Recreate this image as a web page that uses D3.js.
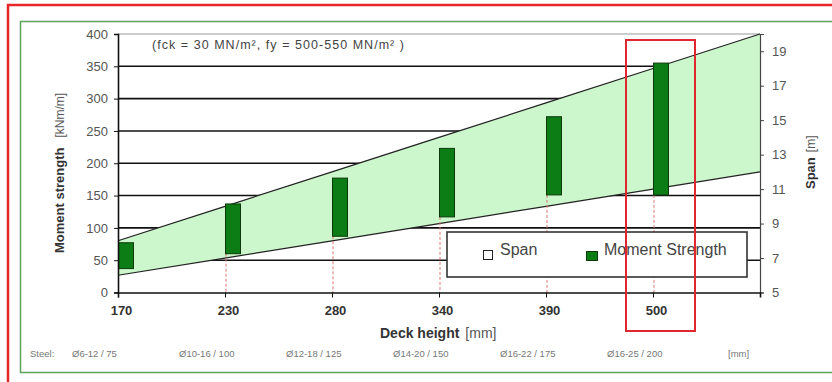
<!DOCTYPE html>
<html>
<head>
<meta charset="utf-8">
<script src="https://cdn.jsdelivr.net/npm/d3@7"></script>
<style>
  body { margin: 0; background: #fff; }
  svg { display: block; font-family: Arial, "Liberation Sans", sans-serif; }
</style>
</head>
<body>
<svg id="chart" width="832" height="382"></svg>
<script>
// data
const deckHeights = ["170", "230", "280", "340", "390", "500"];
const momentLow = [37, 60, 87, 117, 151, 151];
const momentHigh = [77, 137, 177, 223, 272, 355];
// span band (at each category and at the right edge)
const spanMin = [6, 7, 8, 9, 10, 11, 12];
const spanMax = [8, 10, 12, 14, 16, 18, 20];
const steelLabels = ["Ø6-12 / 75", "Ø10-16 / 100", "Ø12-18 / 125", "Ø14-20 / 150", "Ø16-22 / 175", "Ø16-25 / 200"];
const momentTicks = [0, 50, 100, 150, 200, 250, 300, 350, 400];
const spanTicks = [5, 7, 9, 11, 13, 15, 17, 19];

const svg = d3.select("#chart");

const plotLeft = 118, plotRight = 760, plotTop = 34, plotBottom = 292.5;

const x = d3.scaleLinear().domain([0, 6]).range([plotLeft, plotRight]);
const y = d3.scaleLinear().domain([0, 400]).range([plotBottom, plotTop]);
const ySpan = d3.scaleLinear().domain([5, 20]).range([plotBottom, plotTop]);

// frames
svg.append("rect")
    .attr("x", 8).attr("y", 5).attr("width", 840).attr("height", 390)
    .attr("fill", "none").attr("stroke", "#e8262a").attr("stroke-width", 2.5);
svg.append("rect")
    .attr("x", 20.5).attr("y", 21.5).attr("width", 830).attr("height", 351)
    .attr("fill", "none").attr("stroke", "#5aa55a").attr("stroke-width", 1.5);

// plot top border
svg.append("line")
    .attr("x1", plotLeft).attr("x2", plotRight).attr("y1", plotTop).attr("y2", plotTop)
    .attr("stroke", "#999").attr("stroke-width", 1);

// gridlines
svg.append("g")
    .selectAll("line")
    .data(momentTicks.filter(d => d > 0 && d < 400))
    .join("line")
    .attr("x1", plotLeft).attr("x2", plotRight)
    .attr("y1", d => y(d)).attr("y2", d => y(d))
    .attr("stroke", "#111").attr("stroke-width", 1.6);

// span band
const bandIdx = d3.range(spanMin.length);
const area = d3.area()
    .x(i => x(i))
    .y0(i => ySpan(spanMin[i]))
    .y1(i => ySpan(spanMax[i]));
svg.append("path")
    .datum(bandIdx)
    .attr("d", area)
    .attr("fill", "#ccf6cc");

const lineMax = d3.line().x(i => x(i)).y(i => ySpan(spanMax[i]));
const lineMin = d3.line().x(i => x(i)).y(i => ySpan(spanMin[i]));
svg.append("path").datum(bandIdx).attr("d", lineMax)
    .attr("fill", "none").attr("stroke", "#222").attr("stroke-width", 1.2);
svg.append("path").datum(bandIdx).attr("d", lineMin)
    .attr("fill", "none").attr("stroke", "#222").attr("stroke-width", 1.2);

// dashed drop lines below the bars
svg.append("g")
    .selectAll("line")
    .data(deckHeights.map((d, i) => i).filter(i => i > 0))
    .join("line")
    .attr("x1", i => x(i) + 1).attr("x2", i => x(i) + 1)
    .attr("y1", i => y(momentLow[i])).attr("y2", plotBottom)
    .attr("stroke", "#d77").attr("stroke-width", 1)
    .attr("stroke-dasharray", "3,2");

// moment strength bars
const barW = 15;
svg.append("g")
    .selectAll("rect")
    .data(deckHeights)
    .join("rect")
    .attr("x", (d, i) => x(i) + 0.5)
    .attr("y", (d, i) => y(momentHigh[i]))
    .attr("width", barW)
    .attr("height", (d, i) => y(momentLow[i]) - y(momentHigh[i]))
    .attr("fill", "#0b7d14")
    .attr("stroke", "#0a3a0a").attr("stroke-width", 1);

// left axis
const yAxis = d3.axisLeft(y).tickValues(momentTicks).tickSize(4).tickPadding(6);
const gy = svg.append("g").attr("transform", `translate(${plotLeft},0)`).call(yAxis);
gy.select(".domain").attr("stroke", "#111").attr("stroke-width", 1.6);
gy.selectAll(".tick line").attr("stroke", "#111");
gy.selectAll(".tick text").attr("font-size", 13).attr("fill", "#555");

// right axis
const rAxis = d3.axisRight(ySpan).tickValues(spanTicks).tickSize(4).tickPadding(8);
const gr = svg.append("g").attr("transform", `translate(${plotRight},0)`).call(rAxis);
gr.select(".domain").attr("stroke", "#444").attr("stroke-width", 1.2);
gr.selectAll(".tick line").attr("stroke", "#444");
gr.selectAll(".tick text").attr("font-size", 13).attr("fill", "#555");

// x axis
const xAxis = d3.axisBottom(x).tickValues(d3.range(deckHeights.length))
    .tickFormat(i => deckHeights[i]).tickSize(5).tickPadding(8);
const gx = svg.append("g").attr("transform", `translate(0,${plotBottom})`).call(xAxis);
gx.select(".domain").attr("stroke", "#111").attr("stroke-width", 1.6);
gx.selectAll(".tick line").attr("stroke", "#111");
gx.selectAll(".tick text").attr("font-size", 13).attr("font-weight", "bold")
    .attr("fill", "#333").attr("dx", 3);

// axis titles
const xt = svg.append("text").attr("x", 380).attr("y", 338).attr("fill", "#333");
xt.append("tspan").attr("font-size", 14).attr("font-weight", "bold").text("Deck height");
xt.append("tspan").attr("font-size", 14).attr("dx", 6).attr("fill", "#555").text("[mm]");

const yt = svg.append("text")
    .attr("transform", "translate(64,253) rotate(-90)")
    .attr("fill", "#333");
yt.append("tspan").attr("font-size", 13).attr("font-weight", "bold").text("Moment strength");
yt.append("tspan").attr("font-size", 12).attr("dx", 10).attr("fill", "#555").text("[kNm/m]");

const rt = svg.append("text")
    .attr("transform", "translate(815,189) rotate(-90)")
    .attr("fill", "#333");
rt.append("tspan").attr("font-size", 13).attr("font-weight", "bold").text("Span");
rt.append("tspan").attr("font-size", 12).attr("dx", 5).attr("fill", "#555").text("[m]");

// annotation
svg.append("text")
    .attr("x", 152).attr("y", 49)
    .attr("font-size", 12.5).attr("fill", "#444")
    .attr("textLength", 252).attr("lengthAdjust", "spacing")
    .text("(fck = 30 MN/m², fy = 500-550 MN/m² )");

// steel row
const steel = svg.append("g").attr("font-size", 9.5).attr("fill", "#777");
steel.append("text").attr("x", 30).attr("y", 357).text("Steel:");
steel.selectAll("text.st")
    .data(steelLabels)
    .join("text")
    .attr("class", "st")
    .attr("x", (d, i) => x(i) - 46)
    .attr("y", 357)
    .text(d => d);
steel.append("text").attr("x", x(6) - 32).attr("y", 357).text("[mm]");

// legend
const lg = svg.append("g").attr("transform", "translate(447,232)");
lg.append("rect").attr("width", 300).attr("height", 45)
    .attr("fill", "#fff").attr("stroke", "#333").attr("stroke-width", 1.6);
lg.append("rect").attr("x", 36.5).attr("y", 18.5).attr("width", 9).attr("height", 9)
    .attr("fill", "#fff").attr("stroke", "#222").attr("stroke-width", 1);
lg.append("text").attr("x", 53).attr("y", 23).attr("font-size", 16).attr("fill", "#444").text("Span");
lg.append("rect").attr("x", 139.5).attr("y", 19.5).attr("width", 11).attr("height", 9)
    .attr("fill", "#0b7d14").attr("stroke", "#0a3a0a").attr("stroke-width", 1);
lg.append("text").attr("x", 157).attr("y", 23).attr("font-size", 16).attr("fill", "#444").text("Moment Strength");

// highlight around the 500 mm deck
svg.append("rect")
    .attr("x", x(5) - 27).attr("y", 40)
    .attr("width", 69).attr("height", 291)
    .attr("fill", "none").attr("stroke", "#e0262e").attr("stroke-width", 2);
</script>
</body>
</html>
